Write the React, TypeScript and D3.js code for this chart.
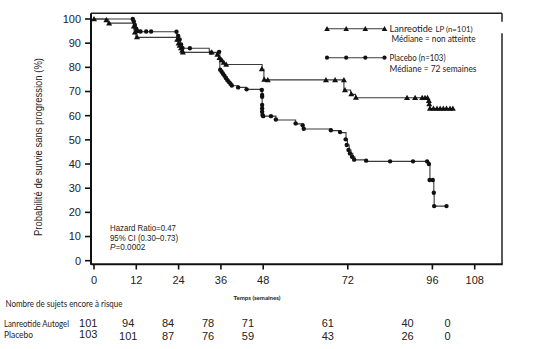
import React from "react";
import * as d3 from "d3";

// ---- Data ----
const xTicks = [0, 12, 24, 36, 48, 72, 96, 108];
const yTicks = [0, 10, 20, 30, 40, 50, 60, 70, 80, 90, 100];

// Kaplan-Meier steps: [week, survival %] (value holds from week onward)
const lanreotideSteps: [number, number][] = [
  [0, 100], [4, 98.3], [11.3, 95.5], [11.9, 92.4], [23.5, 90.8], [24, 89.2], [24.5, 87.6], [25, 86.2],
  [34.8, 85], [35.5, 83.5], [36.3, 82.2], [37, 81.2], [47.7, 79.2], [48.2, 74.8], [70.9, 70.6],
  [72.8, 68.8], [74.2, 67.4], [94.8, 65.8], [95, 64.4], [95.2, 63], [101.8, 63],
];
const lanreotideMarks: [number, number][] = [
  [0, 100], [3.5, 99.6], [4.3, 98.2], [11.3, 97], [11.6, 94.5], [12.2, 92.6],
  [23.6, 91.5], [24, 90], [24.3, 89], [24.7, 88], [25, 87], [25.2, 86.2], [33.4, 86.2],
  [35, 85.3], [35.6, 84], [36.2, 83], [36.8, 82], [37.5, 81.2],
  [47.6, 79.3], [48.3, 75], [49.3, 74.8], [65.8, 74.8], [68.4, 74.8], [70.9, 74.8],
  [71.2, 70.6], [73, 69], [74.3, 67.5],
  [88.8, 67.4], [91.1, 67.4], [93.1, 67.4], [93.9, 67.4], [94.6, 67.4], [95, 66.2], [95.1, 64.8],
  [95.3, 63], [96.3, 63], [97.3, 63], [98.2, 63], [99.1, 63], [100, 63], [101, 63], [101.8, 63],
];

const placeboSteps: [number, number][] = [
  [0, 100], [11.1, 98.8], [11.5, 97], [12, 95.5], [12.4, 94.7], [23.5, 93], [24, 91.2], [24.5, 89.5],
  [25, 87.9], [32.7, 86.1], [35.7, 78.9], [36.3, 78], [36.8, 77], [37.3, 76], [37.8, 75], [38.3, 74],
  [38.8, 73], [39.2, 72.4], [40.9, 71.7], [43.3, 70.9], [47.7, 59.8], [51.6, 58.2], [57.2, 56.6],
  [59.4, 54.5], [67.2, 53.8], [69.8, 53.0], [71.5, 50.2], [71.9, 47.9], [72.4, 45.8], [72.9, 44.4],
  [73.4, 43], [74, 41.7], [77.2, 41.1], [94.6, 40], [95.3, 33.4], [96.4, 28.1], [96.5, 22.6], [100, 22.6],
];
const placeboMarks: [number, number][] = [
  [11, 100], [11.3, 99], [11.6, 97.5], [12, 96], [12.4, 95], [13.2, 94.8], [14.8, 94.8], [16.2, 94.8],
  [23.4, 94.7], [23.9, 93], [24.3, 91.5], [24.7, 89.5], [25.1, 88], [27.2, 87.9],
  [33.2, 86.1], [35.5, 86.4], [35.8, 79], [36.2, 78.2], [36.6, 77.3], [37, 76.5], [37.4, 75.6],
  [37.8, 74.8], [38.2, 74], [38.7, 73.2], [39.1, 72.5], [40.9, 71.7], [43.3, 70.9],
  [47.6, 70.6], [47.7, 68.6], [47.7, 67.8], [47.7, 64.4], [47.7, 63], [47.7, 61.6], [47.8, 60.3], [48, 59.8],
  [50.2, 59.8], [51.6, 58.4], [57.2, 56.8], [59.2, 56], [59.5, 54.6], [67.2, 54], [69.8, 53.2],
  [71.4, 50.2], [71.7, 47.9], [72.2, 45.8], [72.6, 44.4], [73.2, 43], [73.8, 41.8],
  [77.2, 41.4], [84, 41.1], [90.5, 41.1], [94.5, 41.1], [95, 40], [95.2, 33.4], [96.1, 33.4],
  [96.4, 28.1], [96.5, 22.6], [100, 22.6],
];

const riskWeeks = [0, 12, 24, 36, 48, 72, 96, 108];
const riskLanreotide = [101, 94, 84, 78, 71, 61, 40, 0];
const riskPlacebo = [103, 101, 87, 76, 59, 43, 26, 0];

const legendWeeks = [0, 1, 2, 3];

// ---- Layout ----
const W = 556, H = 349;
const x = d3.scaleLinear().domain([0, 108]).range([94, 474.7]);
const y = d3.scaleLinear().domain([0, 100]).range([260.7, 19]);
const xr = d3.scaleLinear().domain([0, 108]).range([88.3, 447.5]);
const legX = d3.scaleLinear().domain([0, 3]).range([327, 384.5]);

const frameL = 91, frameR = 502, frameT = 13.3, frameB = 264.3;

const line = d3.line<[number, number]>().x(d => x(d[0])).y(d => y(d[1])).curve(d3.curveStepAfter);

const sans = "'Liberation Sans', Arial, sans-serif";
const cal = "Lato, 'Open Sans', sans-serif";
const stroke = "#3a3a3a";
const ink = "#111";

function tri(cx: number, cy: number, s = 3) {
  return `M${cx},${cy - s}L${cx + s},${cy + s * 0.75}L${cx - s},${cy + s * 0.75}Z`;
}

export default function App() {
  return (
    <svg width={W} height={H} style={{ position: "absolute", left: 0, top: 0, background: "#fff" }}>
      {/* frame */}
      <line x1={frameL} x2={frameR} y1={frameT} y2={frameT} stroke="#222" strokeWidth={1.5} />
      <line x1={frameR} x2={frameR} y1={frameT} y2={21.7} stroke="#222" strokeWidth={1.5} />
      <line x1={frameR} x2={frameR} y1={33.3} y2={frameB} stroke="#222" strokeWidth={1.5} />
      <line x1={frameL} x2={frameL} y1={frameT} y2={frameB + 0.5} stroke="#111" strokeWidth={2} />
      <line x1={frameL} x2={frameR + 0.7} y1={frameB} y2={frameB} stroke="#111" strokeWidth={2} />

      {/* y ticks */}
      {yTicks.map(t => (
        <g key={"y" + t}>
          <line x1={85} x2={frameL} y1={y(t)} y2={y(t)} stroke="#111" strokeWidth={1.6} />
          <text x={81} y={y(t)} dy="0.36em" textAnchor="end" fontFamily={sans} fontSize={11} fill="#222">{t}</text>
        </g>
      ))}
      {/* x ticks */}
      {xTicks.map(t => (
        <g key={"x" + t}>
          <line x1={x(t)} x2={x(t)} y1={frameB} y2={269.5} stroke="#111" strokeWidth={1.6} />
          <text x={x(t)} y={284} textAnchor="middle" fontFamily={sans} fontSize={11} fill="#222">{t}</text>
        </g>
      ))}

      {/* y label */}
      <text transform="translate(42,147) rotate(-90)" textAnchor="middle" fontFamily={sans} fontSize={10}
        textLength={178} lengthAdjust="spacingAndGlyphs" fill="#222">
        Probabilité de survie sans progression  (%)
      </text>

      {/* curves */}
      <path d={line(lanreotideSteps) || ""} fill="none" stroke={stroke} strokeWidth={1.1} />
      <path d={line(placeboSteps) || ""} fill="none" stroke={stroke} strokeWidth={1.1} />
      {lanreotideMarks.map((d, i) => (
        <path key={"lm" + i} d={tri(x(d[0]), y(d[1]))} fill={ink} />
      ))}
      {placeboMarks.map((d, i) => (
        <circle key={"pm" + i} cx={x(d[0])} cy={y(d[1])} r={2.2} fill={ink} />
      ))}

      {/* legend */}
      <line x1={legX(0)} x2={legX(3)} y1={28.8} y2={28.8} stroke={stroke} strokeWidth={1.1} />
      {legendWeeks.map(k => <path key={"lt" + k} d={tri(legX(k), 28.8, 2.8)} fill={ink} />)}
      <text x={389.5} y={31.5} fontFamily={cal} fontSize={9.2} fill="#222">Lanreotide</text>
      <text x={435.5} y={31.5} fontFamily={cal} fontSize={7.8} fill="#222">LP (n=101)</text>
      <text x={391.5} y={41.5} fontFamily={cal} fontSize={9.5} fill="#222" textLength={84} lengthAdjust="spacingAndGlyphs">Médiane = non atteinte</text>
      <line x1={legX(0)} x2={legX(3)} y1={57.7} y2={57.7} stroke={stroke} strokeWidth={1.1} />
      {legendWeeks.map(k => <circle key={"lc" + k} cx={legX(k)} cy={57.7} r={2.1} fill={ink} />)}
      <text x={389.5} y={60.8} fontFamily={cal} fontSize={9.5} fill="#222" textLength={56} lengthAdjust="spacingAndGlyphs">Placebo (n=103)</text>
      <text x={389.5} y={71.5} fontFamily={cal} fontSize={9.5} fill="#222" textLength={87} lengthAdjust="spacingAndGlyphs">Médiane = 72 semaines</text>

      {/* hazard ratio */}
      <text x={110} y={231} fontFamily={sans} fontSize={8.2} fill="#222" textLength={66} lengthAdjust="spacingAndGlyphs">Hazard Ratio=0.47</text>
      <text x={110} y={240.5} fontFamily={sans} fontSize={8.2} fill="#222" textLength={68} lengthAdjust="spacingAndGlyphs">95% CI (0.30–0.73)</text>
      <text x={110} y={250} fontFamily={sans} fontSize={8.2} fill="#222">
        <tspan fontStyle="italic">P</tspan>=0.0002
      </text>

      {/* axis title */}
      <text x={257} y={299.5} textAnchor="middle" fontFamily={cal} fontWeight="bold" fontSize={6} fill="#222"
        textLength={47} lengthAdjust="spacingAndGlyphs">Temps (semaines)</text>

      {/* risk table */}
      <text x={5.5} y={306.5} fontFamily={cal} fontSize={9.5} fill="#222" textLength={117} lengthAdjust="spacingAndGlyphs">Nombre de sujets encore à risque</text>
      <text x={4} y={326.5} fontFamily={cal} fontSize={8.5} fill="#222" textLength={65} lengthAdjust="spacingAndGlyphs">Lanreotide Autogel</text>
      <text x={4} y={338} fontFamily={cal} fontSize={8.5} fill="#222" textLength={29} lengthAdjust="spacingAndGlyphs">Placebo</text>
      {riskWeeks.map((w, i) => (
        <text key={"rl" + i} x={xr(w)} y={327} textAnchor="middle" fontFamily={sans} fontSize={11} fill="#222">{riskLanreotide[i]}</text>
      ))}
      {riskWeeks.map((w, i) => (
        <text key={"rp" + i} x={xr(w)} y={i === 0 ? 338 : 340} textAnchor="middle" fontFamily={sans} fontSize={11} fill="#222">{riskPlacebo[i]}</text>
      ))}
    </svg>
  );
}
